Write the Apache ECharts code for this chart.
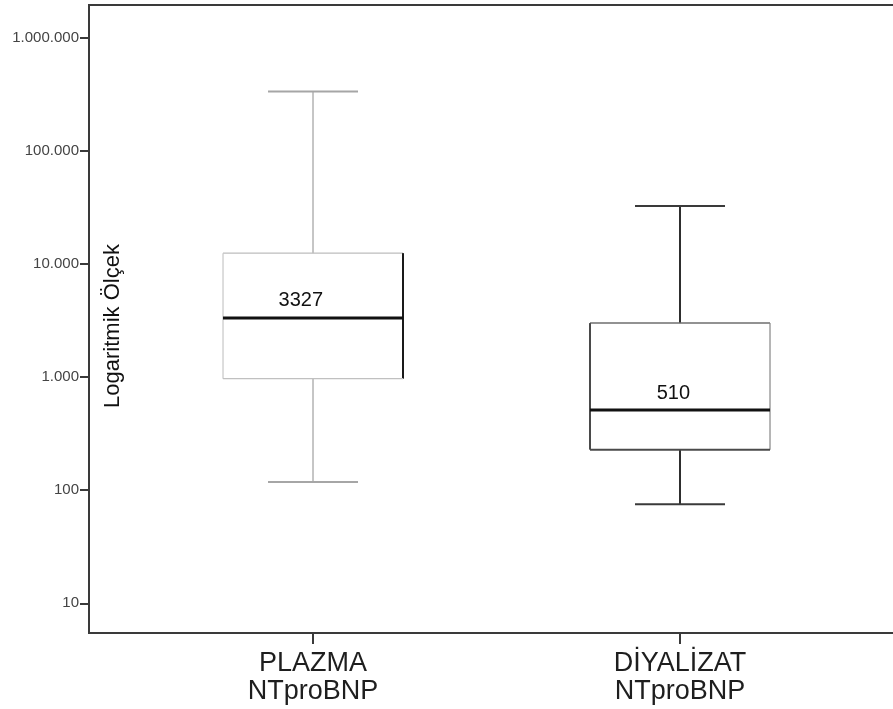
<!DOCTYPE html>
<html>
<head>
<meta charset="utf-8">
<script src="https://cdn.jsdelivr.net/npm/echarts@6/dist/echarts.min.js"></script>
<style>
  html, body { margin: 0; padding: 0; background: #ffffff; }
  #chart { width: 893px; height: 709px; }
</style>
</head>
<body>
<div id="chart"></div>
<script>
// NTproBNP distributions (plasma vs. dialysate), log scale
const categories = ['PLAZMA\nNTproBNP', 'DİYALİZAT\nNTproBNP'];
const categoryPos = [1, 2];
const whiskerLow = [118, 75];
const q1 = [966, 228];
const median = [3327, 510];
const q3 = [12430, 2995];
const whiskerHigh = [333400, 32350];
const medianLabels = ['3327', '510'];

const yTicks = [10, 100, 1000, 10000, 100000, 1000000];
const yTickLabels = ['10', '100', '1.000', '10.000', '100.000', '1.000.000'];

// Per-box stroke styles
const boxStyles = [
  { top: '#bdbdbd', left: '#c6c6c6', right: '#1a1a1a', bottom: '#c0c0c0',
    edgeWidth: [1.2, 1.2, 2, 1.2], whisker: '#8c8c8c', whiskerWidth: 1, cap: '#a6a6a6', capWidth: 2 },
  { top: '#6e6e6e', left: '#4a4a4a', right: '#858585', bottom: '#4a4a4a',
    edgeWidth: [1.5, 2, 1.2, 2], whisker: '#2e2e2e', whiskerWidth: 2, cap: '#3a3a3a', capWidth: 2 }
];

const FONT = "'Liberation Sans', Arial, Helvetica, sans-serif";
const BOX_HALF = 90;
const CAP_HALF = 45;

const seriesData = categoryPos.map((x, i) =>
  [x, whiskerLow[i], q1[i], median[i], q3[i], whiskerHigh[i]]);

function line(x1, y1, x2, y2, color, width) {
  return {
    type: 'line',
    shape: { x1: x1, y1: y1, x2: x2, y2: y2 },
    style: { stroke: color, lineWidth: width, fill: null }
  };
}

function renderBox(params, api) {
  const i = params.dataIndex;
  const s = boxStyles[i];
  const x = api.value(0);
  const pLow = api.coord([x, api.value(1)]);
  const pQ1 = api.coord([x, api.value(2)]);
  const pMed = api.coord([x, api.value(3)]);
  const pQ3 = api.coord([x, api.value(4)]);
  const pHigh = api.coord([x, api.value(5)]);
  const cx = pMed[0];
  const l = cx - BOX_HALF, r = cx + BOX_HALF;
  const children = [
    // whiskers
    line(cx, pHigh[1], cx, pQ3[1], s.whisker, s.whiskerWidth),
    line(cx, pQ1[1], cx, pLow[1], s.whisker, s.whiskerWidth),
    line(cx - CAP_HALF, pHigh[1], cx + CAP_HALF, pHigh[1], s.cap, s.capWidth),
    line(cx - CAP_HALF, pLow[1], cx + CAP_HALF, pLow[1], s.cap, s.capWidth),
    // box edges
    line(l, pQ3[1], r, pQ3[1], s.top, s.edgeWidth[0]),
    line(l, pQ3[1], l, pQ1[1], s.left, s.edgeWidth[1]),
    line(r, pQ3[1], r, pQ1[1], s.right, s.edgeWidth[2]),
    line(l, pQ1[1], r, pQ1[1], s.bottom, s.edgeWidth[3]),
    // median
    line(l, pMed[1], r, pMed[1], '#111111', 3),
    {
      type: 'text',
      x: cx + 10,
      y: pMed[1] - 17,
      style: {
        text: medianLabels[i],
        fill: '#111111',
        font: '20px ' + FONT,
        align: 'right',
        verticalAlign: 'middle'
      }
    }
  ];
  return { type: 'group', children: children };
}

const chart = echarts.init(document.getElementById('chart'), null, { renderer: 'canvas' });

chart.setOption({
  backgroundColor: '#ffffff',
  animation: false,
  textStyle: { fontFamily: FONT },
  grid: {
    left: 89, top: 5, right: -50, bottom: 76,
    containLabel: false,
    outerBoundsMode: 'none',
    show: true, borderColor: '#3a3a3a', borderWidth: 2, backgroundColor: 'transparent'
  },
  xAxis: {
    type: 'value',
    min: 0.3896,
    max: 2.7166,
    splitLine: { show: false },
    axisLine: { show: true, lineStyle: { color: '#3a3a3a', width: 2 } },
    axisTick: {
      show: true, customValues: categoryPos, length: 11, inside: false,
      lineStyle: { color: '#3a3a3a', width: 2 }
    },
    axisLabel: {
      customValues: categoryPos,
      formatter: function (v) { return categories[categoryPos.indexOf(Math.round(v))] || ''; },
      color: '#1e1e1e',
      fontSize: 27,
      lineHeight: 28,
      margin: 17,
      fontFamily: FONT
    }
  },
  yAxis: {
    type: 'log',
    logBase: 10,
    min: 5.47,
    max: 1936000,
    name: 'Logaritmik Ölçek',
    nameLocation: 'middle',
    nameRotate: 90,
    nameGap: -35,
    nameMoveOverlap: false,
    nameTextStyle: { color: '#111111', fontSize: 22, fontFamily: FONT, padding: [0, 14, 0, 0] },
    splitLine: { show: false },
    axisLine: { show: true, lineStyle: { color: '#3a3a3a', width: 2 } },
    axisTick: {
      show: true, customValues: yTicks, length: 9,
      lineStyle: { color: '#3a3a3a', width: 2 }
    },
    axisLabel: {
      customValues: yTicks,
      formatter: function (v) {
        const k = yTicks.findIndex(t => Math.abs(Math.log10(t) - Math.log10(v)) < 1e-6);
        return k >= 0 ? yTickLabels[k] : '';
      },
      color: '#444444',
      fontSize: 15,
      margin: 10,
      fontFamily: FONT
    }
  },
  series: [{
    type: 'custom',
    renderItem: renderBox,
    encode: { x: 0, y: [1, 2, 3, 4, 5] },
    data: seriesData,
    clip: false,
    silent: true
  }]
});
</script>
</body>
</html>
